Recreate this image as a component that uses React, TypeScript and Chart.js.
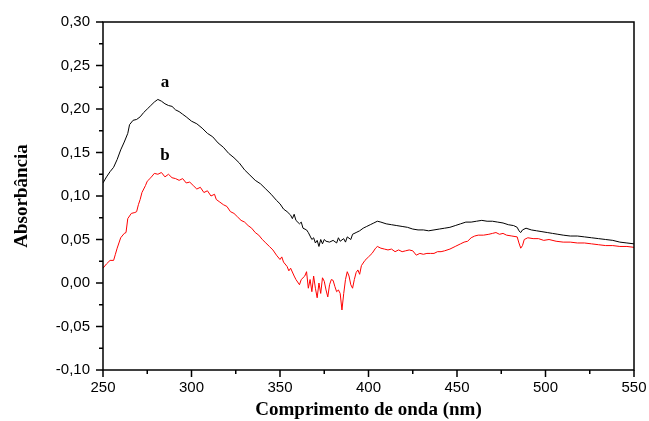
import React, { useEffect, useRef } from "react";
import { Chart, registerables } from "chart.js";

Chart.register(...registerables);

const waveA = [250,252,254,256,258,260,262,264,265,267,269,271,273,275,277,279,281,283,285,287,289,291,293,295,297,300,303,306,309,312,315,318,321,324,327,330,333,336,339,342,345,348,350,352,354,356,357,358,359,361,362,363,365,366,367,368,369,370,371,372,373,374,375,376,378,380,382,383,384,386,387,388,390,391,393,395,397,399,401,403,405,407,410,413,416,419,422,425,428,431,434,437,440,443,446,449,452,455,458,461,464,467,470,473,476,479,482,484,485,486,487,489,492,495,498,501,504,507,510,514,518,522,526,530,534,538,542,546,550];
const absA = [0.115,0.122,0.128,0.133,0.142,0.153,0.162,0.172,0.182,0.187,0.188,0.191,0.196,0.200,0.204,0.208,0.211,0.209,0.206,0.204,0.203,0.199,0.197,0.194,0.191,0.186,0.183,0.178,0.172,0.168,0.161,0.156,0.149,0.144,0.138,0.130,0.124,0.118,0.114,0.108,0.102,0.095,0.091,0.085,0.082,0.078,0.074,0.079,0.072,0.068,0.070,0.063,0.061,0.058,0.054,0.050,0.052,0.046,0.049,0.042,0.050,0.045,0.050,0.048,0.047,0.049,0.046,0.052,0.048,0.051,0.047,0.053,0.050,0.056,0.058,0.060,0.063,0.065,0.067,0.069,0.071,0.070,0.068,0.067,0.066,0.065,0.064,0.062,0.061,0.061,0.060,0.061,0.062,0.063,0.064,0.066,0.068,0.070,0.070,0.071,0.072,0.071,0.071,0.070,0.069,0.067,0.066,0.064,0.060,0.058,0.061,0.063,0.061,0.060,0.059,0.058,0.057,0.056,0.055,0.054,0.054,0.053,0.052,0.051,0.050,0.049,0.047,0.046,0.045];

const waveB = [250,252,254,256,257,258,259,260,262,263,264,266,268,269,270,271,272,274,275,277,279,281,283,285,287,289,291,293,295,297,299,301,303,305,307,309,311,313,314,316,318,320,322,324,326,328,330,332,334,336,338,340,342,344,346,348,350,351,352,354,355,356,358,359,361,362,364,365,366,367,368,369,370,371,372,373,374,375,376,377,378,379,380,381,382,383,384,385,386,387,388,389,390,391,392,393,394,395,396,398,400,402,404,405,407,409,411,413,415,417,419,421,423,425,427,429,431,433,435,437,439,441,443,446,449,452,454,456,458,460,462,465,468,470,472,474,476,478,481,484,485,486,487,488,490,493,496,499,502,506,510,514,518,522,526,530,534,538,542,546,550];
const absB = [0.017,0.022,0.026,0.026,0.033,0.040,0.046,0.052,0.057,0.058,0.074,0.080,0.081,0.082,0.090,0.096,0.104,0.112,0.117,0.121,0.126,0.125,0.127,0.122,0.125,0.121,0.120,0.118,0.120,0.115,0.116,0.112,0.108,0.110,0.104,0.106,0.100,0.102,0.096,0.093,0.090,0.088,0.082,0.080,0.076,0.072,0.070,0.066,0.063,0.058,0.055,0.050,0.046,0.042,0.038,0.032,0.027,0.030,0.024,0.019,0.014,0.017,0.008,0.004,-0.002,0.004,0.008,0.013,-0.006,0.004,-0.010,0.008,-0.006,-0.017,0.000,-0.012,0.006,0.002,-0.008,-0.016,-0.002,0.004,0.003,-0.004,-0.010,-0.008,-0.012,-0.031,-0.012,0.004,0.013,0.008,-0.002,-0.006,0.004,0.012,0.015,0.010,0.020,0.026,0.030,0.034,0.040,0.042,0.040,0.039,0.038,0.039,0.036,0.038,0.036,0.037,0.038,0.037,0.032,0.034,0.033,0.034,0.034,0.034,0.036,0.036,0.037,0.039,0.042,0.045,0.047,0.048,0.052,0.054,0.055,0.055,0.056,0.057,0.058,0.056,0.057,0.055,0.054,0.053,0.046,0.040,0.043,0.050,0.052,0.051,0.051,0.049,0.050,0.048,0.047,0.047,0.046,0.046,0.045,0.044,0.043,0.043,0.042,0.042,0.041];

const xTickValues = [250, 300, 350, 400, 450, 500, 550];
const yTickValues = [-0.1, -0.05, 0, 0.05, 0.1, 0.15, 0.2, 0.25, 0.3];
const curveLabels = ["a", "b"];
const curveLabelX = [285, 285];
const curveLabelY = [0.23, 0.147];

const framePlugin = {
  id: "frameTicks",
  afterDraw(chart: any) {
    const { ctx, chartArea, scales } = chart;
    const xs = scales.x;
    const ys = scales.y;
    ctx.save();
    ctx.strokeStyle = "#000";
    ctx.lineWidth = 1.5;
    ctx.strokeRect(chartArea.left, chartArea.top, chartArea.right - chartArea.left, chartArea.bottom - chartArea.top);
    ctx.beginPath();
    for (let i = 0; i < xTickValues.length; i++) {
      const v = xTickValues[i];
      const px = xs.getPixelForValue(v);
      ctx.moveTo(px, chartArea.bottom);
      ctx.lineTo(px, chartArea.bottom + 7);
      if (i < xTickValues.length - 1) {
        const m = xs.getPixelForValue((v + xTickValues[i + 1]) / 2);
        ctx.moveTo(m, chartArea.bottom);
        ctx.lineTo(m, chartArea.bottom + 4);
      }
    }
    for (let i = 0; i < yTickValues.length; i++) {
      const v = yTickValues[i];
      const py = ys.getPixelForValue(v);
      ctx.moveTo(chartArea.left, py);
      ctx.lineTo(chartArea.left - 7, py);
      if (i < yTickValues.length - 1) {
        const m = ys.getPixelForValue((v + yTickValues[i + 1]) / 2);
        ctx.moveTo(chartArea.left, m);
        ctx.lineTo(chartArea.left - 4, m);
      }
    }
    ctx.stroke();
    ctx.fillStyle = "#000";
    ctx.font = "bold 17px 'Liberation Serif', 'Times New Roman', serif";
    ctx.textAlign = "center";
    ctx.textBaseline = "middle";
    for (let i = 0; i < curveLabels.length; i++) {
      ctx.fillText(curveLabels[i], xs.getPixelForValue(curveLabelX[i]), ys.getPixelForValue(curveLabelY[i]));
    }
    ctx.restore();
  },
};

export default function App() {
  const ref = useRef<HTMLCanvasElement | null>(null);
  useEffect(() => {
    if (!ref.current) return;
    const chart = new Chart(ref.current, {
      type: "line",
      data: {
        datasets: [
          {
            label: "a",
            data: waveA.map((x, i) => ({ x, y: absA[i] })),
            borderColor: "#000000",
            borderWidth: 1,
            pointRadius: 0,
            tension: 0,
          },
          {
            label: "b",
            data: waveB.map((x, i) => ({ x, y: absB[i] })),
            borderColor: "#ff0000",
            borderWidth: 1,
            pointRadius: 0,
            tension: 0,
          },
        ],
      },
      options: {
        responsive: false,
        animation: false,
        layout: { padding: { top: 22, right: 15, left: 0, bottom: 0 } },
        plugins: { legend: { display: false }, tooltip: { enabled: false } },
        scales: {
          x: {
            type: "linear",
            min: 250,
            max: 550,
            afterFit: (s: any) => { s.height = 51; s.paddingLeft = 0; s.paddingRight = 0; },
            afterBuildTicks: (s: any) => { s.ticks = xTickValues.map((v) => ({ value: v })); },
            grid: { display: false, drawTicks: false },
            border: { display: false },
            ticks: {
              color: "#000",
              padding: 9,
              maxRotation: 0,
              font: { family: "'Liberation Sans', Arial, sans-serif", size: 15 },
              callback: (v: any) => String(v),
            },
            title: {
              display: true,
              text: "Comprimento de onda (nm)",
              color: "#000",
              padding: { top: 0, bottom: 0 },
              font: { family: "'Liberation Serif', 'Times New Roman', serif", size: 19, weight: "bold" },
            },
          },
          y: {
            type: "linear",
            min: -0.1,
            max: 0.3,
            afterFit: (s: any) => { s.width = 103; s.paddingTop = 0; s.paddingBottom = 0; },
            afterBuildTicks: (s: any) => { s.ticks = yTickValues.map((v) => ({ value: v })); },
            grid: { display: false, drawTicks: false },
            border: { display: false },
            ticks: {
              color: "#000",
              padding: 13,
              font: { family: "'Liberation Sans', Arial, sans-serif", size: 15 },
              callback: (v: any) => Number(v).toFixed(2).replace(".", ","),
            },
            title: {
              display: true,
              text: "Absorbância",
              color: "#000",
              padding: { top: 11, bottom: 0 },
              font: { family: "'Liberation Serif', 'Times New Roman', serif", size: 19, weight: "bold" },
            },
          },
        },
      },
      plugins: [framePlugin],
    } as any);
    return () => chart.destroy();
  }, []);
  return (
    <div style={{ position: "absolute", left: 0, top: 0, width: 649, height: 421, background: "#fff" }}>
      <canvas ref={ref} width={649} height={421} style={{ display: "block" }} />
    </div>
  );
}
